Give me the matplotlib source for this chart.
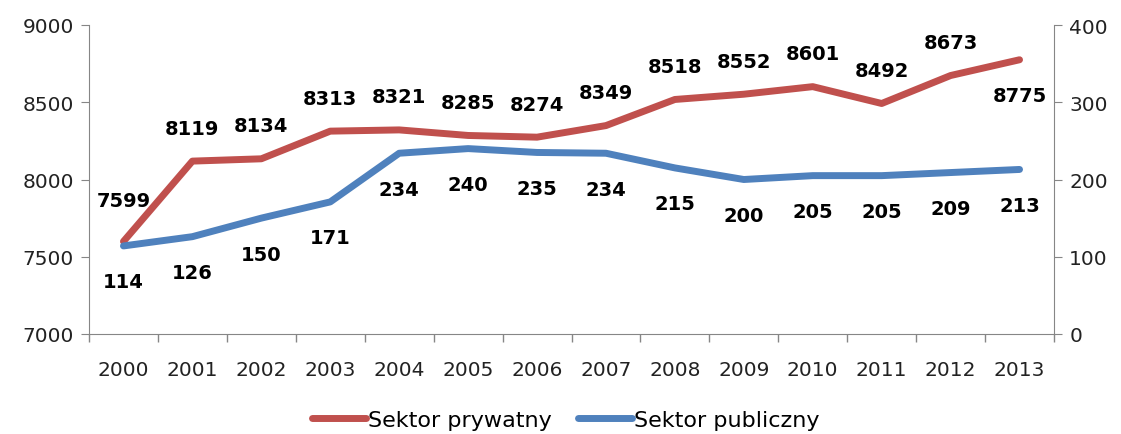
import matplotlib
matplotlib.use("Agg")
import matplotlib.pyplot as plt
import numpy as np

years = [str(y) for y in range(2000, 2014)]
private = [7599, 8119, 8134, 8313, 8321, 8285, 8274, 8349, 8518, 8552, 8601, 8492, 8673, 8775]
public = [114, 126, 150, 171, 234, 240, 235, 234, 215, 200, 205, 205, 209, 213]

red = "#C0504D"
blue = "#4F81BD"
grey = "#868686"
font = ["DejaVu Sans"]
plt.rcParams['font.family'] = font

fig = plt.figure(figsize=(11.21, 4.35), dpi=100)
ax = fig.add_axes([89/1121, 1-335/435, (1054-89)/1121, (335-26)/435])
ax2 = ax.twinx()

x = np.arange(len(years))
lr, = ax.plot(x, private, color=red, lw=5, solid_capstyle='round', solid_joinstyle='round', zorder=3)
lb, = ax2.plot(x, public, color=blue, lw=5, solid_capstyle='round', solid_joinstyle='round', zorder=3)

ax.set_xlim(-0.5, len(years) - 0.5)
ax.set_ylim(7000, 9000)
ax.set_yticks([7000, 7500, 8000, 8500, 9000])
ax2.set_ylim(0, 400)
ax2.set_yticks([0, 100, 200, 300, 400])

ax.set_xticks(x)
ax.set_xticklabels(years)
ax.set_xticks(np.arange(-0.5, len(years)), minor=True)
ax.tick_params(axis='x', which='major', length=0, pad=19, labelsize=14.5, labelcolor='#222222')
ax.tick_params(axis='x', which='minor', length=6, color=grey, width=1)
ax.tick_params(axis='y', length=6, color=grey, labelsize=14.5, labelcolor='#222222', pad=5)
ax2.tick_params(axis='y', length=6, color=grey, labelsize=14.5, labelcolor='#222222', pad=5)

for a in (ax, ax2):
    for s in a.spines.values():
        s.set_visible(False)
ax.spines['left'].set_visible(True)
ax.spines['bottom'].set_visible(True)
ax2.spines['right'].set_visible(True)
ax.spines['left'].set_color(grey)
ax.spines['bottom'].set_color(grey)
ax2.spines['right'].set_color(grey)

# label offsets in pixels (style)
red_off = [41, 33, 33, 33, 33, 33, 33, 33, 33, 33, 33, 33, 33, -36]
for i, v in enumerate(private):
    ax.annotate(str(v), (x[i], v), xytext=(0, red_off[i] * 0.72), textcoords='offset points',
                ha='center', va='center', fontsize=14, fontweight='bold', color='black', zorder=5)
for i, v in enumerate(public):
    ax2.annotate(str(v), (x[i], v), xytext=(0, -36 * 0.72), textcoords='offset points',
                 ha='center', va='center', fontsize=14, fontweight='bold', color='black', zorder=5)

fig.legend([lr, lb], ["Sektor prywatny", "Sektor publiczny"], loc='center',
           bbox_to_anchor=(566/1121, 1-421/435), ncol=2, frameon=False, fontsize=16,
           handlelength=2.4, handletextpad=0.1, columnspacing=1.2)

fig.savefig("out.png", dpi=100)
